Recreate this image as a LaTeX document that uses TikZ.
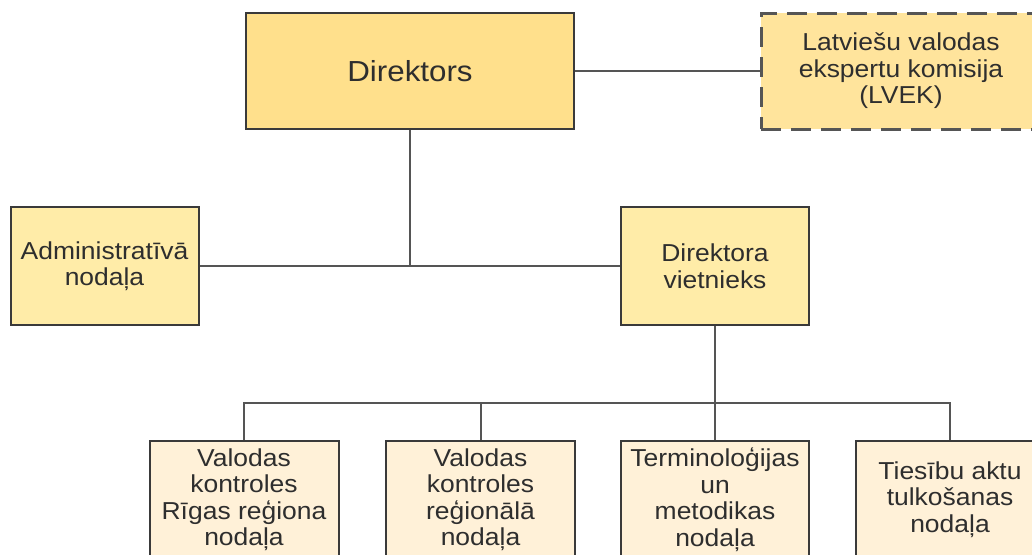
\documentclass[tikz,border=0pt]{standalone}
\usepackage{fontspec}
\setmainfont{Liberation Sans}[FakeStretch=1.08]
\definecolor{fillA}{HTML}{FFE08C}
\definecolor{fillB}{HTML}{FFE49C}
\definecolor{fillC}{HTML}{FFECA8}
\definecolor{fillD}{HTML}{FFF1D8}
\definecolor{edge}{HTML}{3A3A3A}
\definecolor{wire}{HTML}{555555}
\definecolor{txt}{HTML}{2E2E2E}
\tikzset{
  unit/.style={draw=edge, line width=2pt, rectangle, inner sep=0pt, align=center, text=txt,
    font=\fontsize{24.5}{26.5}\selectfont},
  topbox/.style={unit, fill=fillA, minimum width=328pt, minimum height=116pt, font=\fontsize{29}{31}\selectfont},
  commbox/.style={unit, fill=fillB, draw=wire, line width=3pt, dash pattern=on 20pt off 10pt, minimum width=280pt, minimum height=116pt},
  midbox/.style={unit, fill=fillC, minimum height=118pt, minimum width=188pt},
  lowbox/.style={unit, fill=fillD, minimum height=117pt, minimum width=189pt},
  wireline/.style={draw=wire, line width=2pt}
}
\begin{document}
\begin{tikzpicture}[x=1pt, y=-1pt]
\useasboundingbox (0,0) rectangle (1032,554);
\clip (0,0) rectangle (1032,554);
\node[topbox] (dir) at (410,71) {Direktors};
\node[commbox] (lvek) at (901,71) {Latviešu valodas\\ekspertu komisija\\(LVEK)};
\node[midbox] (adm) at (104.5,266) {Administratīvā\\nodaļa};
\node[midbox] (vie) at (715,266) {Direktora\\vietnieks};
\node[lowbox] (b1) at (244,499.5) {Valodas\\kontroles\\Rīgas reģiona\\nodaļa};
\node[lowbox] (b2) at (480.5,499.5) {Valodas\\kontroles\\reģionālā\\nodaļa};
\node[lowbox, minimum width=188pt] (b3) at (715,499.5) {Terminoloģijas\\un\\metodikas\\nodaļa};
\node[lowbox, minimum width=188pt] (b4) at (950,499.5) {Tiesību aktu\\tulkošanas\\nodaļa};
\coordinate (j1) at (410,266);
\coordinate (bus) at (715,403);
\draw[wireline] (dir.east) -- (lvek.west);
\draw[wireline] (dir.south) -- (j1);
\draw[wireline] (adm.east) -- (vie.west);
\draw[wireline] (vie.south) -- (b3.north);
\draw[wireline] (b1.north) |- (b4.north |- bus) -- (b4.north);
\draw[wireline] (b2.north) -- (b2.north |- bus);
\end{tikzpicture}
\end{document}
